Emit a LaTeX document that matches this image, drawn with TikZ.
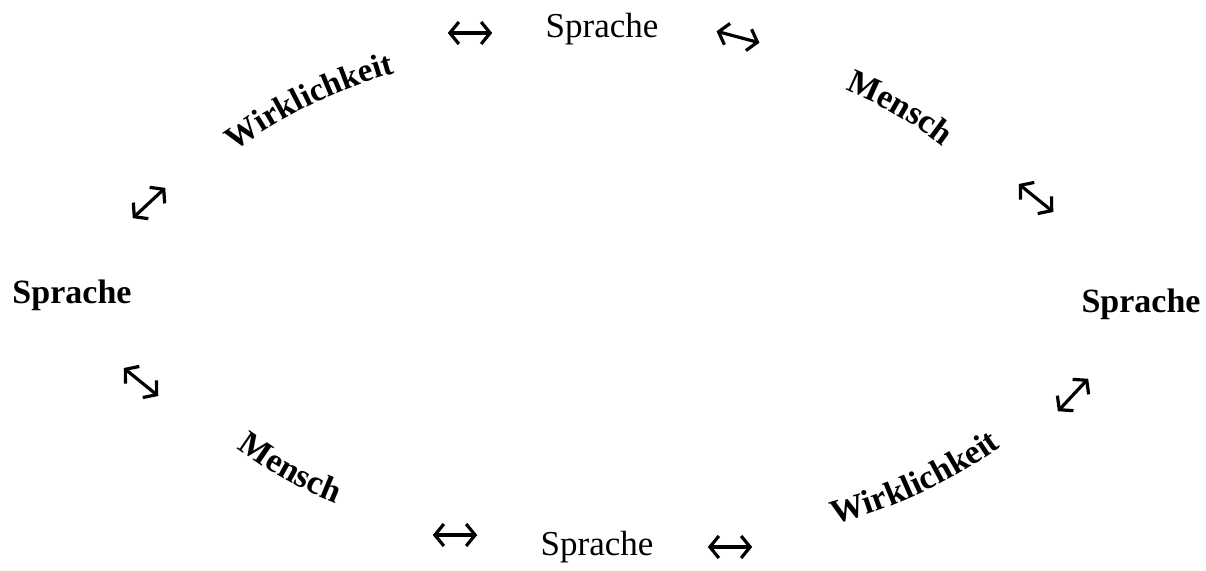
\documentclass[tikz,border=0pt]{standalone}
\usepackage{fontspec}
\setmainfont{Liberation Serif}
\usetikzlibrary{decorations.text,arrows.meta}
\tikzset{
  word/.style={inner sep=0pt, anchor=base, font=\fontsize{35}{35}\selectfont},
  boldword/.style={inner sep=0pt, anchor=base, font=\fontsize{34}{34}\selectfont\bfseries},
  arrbox/.style={inner sep=0pt, minimum width=44pt, minimum height=20pt},
  dbl/.style={line width=3.2pt, line cap=round, line join=round,
    arrows={Straight Barb[length=9pt,width=22pt,line width=3.2pt]-Straight Barb[length=9pt,width=22pt,line width=3.2pt]}},
  curved/.style={decorate, decoration={text along path, text align=center, text={#1}}}
}
\begin{document}
\begin{tikzpicture}[x=1pt,y=1pt]
\useasboundingbox (0,0) rectangle (1206,-570);
% Sprache nodes
\node[word] (st) at (602,-37) {Sprache};
\node[word] (sb) at (597,-555) {Sprache};
\node[boldword] (sl) at (72,-303) {Sprache};
\node[boldword] (sr) at (1141,-312) {Sprache};
% arrows
\node[arrbox] (a1) at (470,-33) {};
\node[arrbox, rotate=-15] (a2) at (738,-37) {};
\node[arrbox, rotate=-39] (a3) at (1036,-198) {};
\node[arrbox, rotate=47] (a4) at (1073,-395) {};
\node[arrbox] (a5) at (730,-547) {};
\node[arrbox] (a6) at (455,-535) {};
\node[arrbox, rotate=-39] (a7) at (141,-382) {};
\node[arrbox, rotate=43] (a8) at (149,-203) {};
\foreach \n in {a1,a2,a3,a4,a5,a6,a7,a8}
  \draw[dbl] (\n.west) -- (\n.east);
% curved words
\path[shift={(530.2,-554.4)}, curved={|\fontsize{33}{33}\selectfont\bfseries|Wirklichkeit}]
  (132:500) arc[start angle=132, end angle=100, radius=500];
\path[shift={(686,-478.7)}, curved={|\fontsize{34}{34}\selectfont\bfseries|Mensch}]
  (74:420) arc[start angle=74, end angle=46, radius=420];
\path[shift={(488,-112)}, curved={|\fontsize{34}{34}\selectfont\bfseries|Mensch}]
  (-134:420) arc[start angle=-134, end angle=-104, radius=420];
\path[shift={(710,-40)}, curved={|\fontsize{34}{34}\selectfont\bfseries|Wirklichkeit}]
  (-82:500) arc[start angle=-82, end angle=-48, radius=500];
\end{tikzpicture}
\end{document}
